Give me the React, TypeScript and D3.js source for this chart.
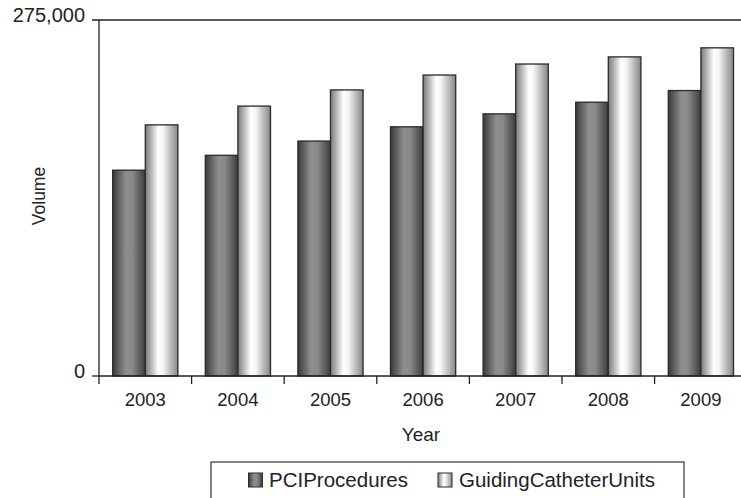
import React from "react";
import * as d3 from "d3";

const years = ["2003", "2004", "2005", "2006", "2007", "2008", "2009"];
const pciProcedures = [159000, 170500, 181500, 192500, 202500, 211500, 220500];
const guidingCatheterUnits = [194000, 208500, 221000, 232500, 241000, 246500, 253500];
const seriesNames = ["PCIProcedures", "GuidingCatheterUnits"];
const yTickLabels = [
  { v: 0, label: "0" },
  { v: 275000, label: "275,000" },
];

const W = 741;
const H = 498;
const left = 99;
const top = 20;
const bottom = 376;
const bandW = 92.6;

export default function App() {
  const x = d3.scaleBand<string>().domain(years).range([left, left + bandW * years.length]).paddingInner(0).paddingOuter(0);
  const x1 = d3.scaleBand<string>().domain(seriesNames).range([0, x.bandwidth()]).paddingInner(0).paddingOuter(0.42);
  const y = d3.scaleLinear().domain([0, 275000]).range([bottom, top]);
  const font = "Liberation Sans, Arial, Helvetica, sans-serif";
  const data = [pciProcedures, guidingCatheterUnits];
  const fills = ["url(#gDark)", "url(#gLight)"];

  return (
    <svg width={W} height={H} style={{ position: "absolute", left: 0, top: 0, background: "#fff" }} fontFamily={font}>
      <defs>
        <linearGradient id="gDark" x1="0" x2="1" y1="0" y2="0">
          <stop offset="0" stopColor="#3a3a3a" />
          <stop offset="0.4" stopColor="#8e8e8e" />
          <stop offset="0.6" stopColor="#8a8a8a" />
          <stop offset="1" stopColor="#3c3c3c" />
        </linearGradient>
        <linearGradient id="gLight" x1="0" x2="1" y1="0" y2="0">
          <stop offset="0" stopColor="#7a7a7a" />
          <stop offset="0.4" stopColor="#ffffff" />
          <stop offset="0.55" stopColor="#f4f4f4" />
          <stop offset="1" stopColor="#858585" />
        </linearGradient>
      </defs>

      {years.map((yr, i) => (
        <g key={yr}>
          {seriesNames.map((s, k) => {
            const v = data[k][i];
            const bx = (x(yr) as number) + (x1(s) as number);
            return (
              <rect
                key={s}
                x={bx}
                y={y(v)}
                width={x1.bandwidth()}
                height={bottom - y(v)}
                fill={fills[k]}
                stroke="#2a2a2a"
                strokeWidth={1.3}
              />
            );
          })}
        </g>
      ))}

      <line x1={92} x2={W} y1={y(275000)} y2={y(275000)} stroke="#222" strokeWidth={1.3} />
      <line x1={left} x2={left} y1={top} y2={bottom} stroke="#222" strokeWidth={1.3} />
      <line x1={92} x2={left} y1={bottom} y2={bottom} stroke="#222" strokeWidth={1.3} />
      <line x1={left} x2={W} y1={bottom} y2={bottom} stroke="#222" strokeWidth={1.3} />
      {years.map((yr) => (
        <line key={"t" + yr} x1={x(yr) as number} x2={x(yr) as number} y1={bottom} y2={bottom + 8} stroke="#222" strokeWidth={1.3} />
      ))}
      {years.map((yr) => (
        <text key={"l" + yr} x={(x(yr) as number) + x.bandwidth() / 2} y={405.5} textAnchor="middle" fontSize={18.5} fill="#222">
          {yr}
        </text>
      ))}
      {yTickLabels.map((t) => (
        <text key={t.label} x={85} y={y(t.v) + 2} textAnchor="end" fontSize={20} fill="#222">
          {t.label}
        </text>
      ))}
      <text x={85} y={0} />

      <text x={421} y={441} textAnchor="middle" fontSize={19} fill="#222">Year</text>
      <text transform={`translate(44.5,196) rotate(-90)`} textAnchor="middle" fontSize={17.5} fill="#222">Volume</text>

      <rect x={211} y={462} width={473} height={50} fill="none" stroke="#333" strokeWidth={1.2} />
      <rect x={248.5} y={473} width={14} height={14} fill="url(#gDark)" stroke="#2a2a2a" strokeWidth={1} />
      <text x={269} y={487} fontSize={20.5} fill="#222">{seriesNames[0]}</text>
      <rect x={438} y={473} width={14} height={14} fill="url(#gLight)" stroke="#2a2a2a" strokeWidth={1} />
      <text x={459} y={487} fontSize={20.5} fill="#222">{seriesNames[1]}</text>
    </svg>
  );
}
